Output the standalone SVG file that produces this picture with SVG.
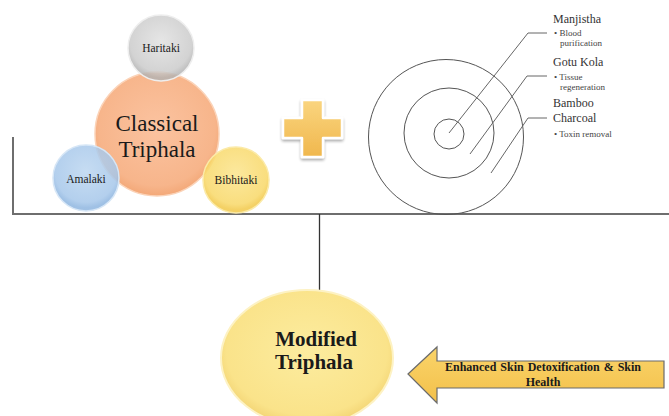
<svg xmlns="http://www.w3.org/2000/svg" width="669" height="416" viewBox="0 0 669 416">
<defs>
<style>
.serif{font-family:"Liberation Serif","Times New Roman",serif;fill:#1a1a1a}
.lbl{font-size:11.5px;text-anchor:middle}
.big{font-size:23px;text-anchor:middle}
.hd{font-size:12px;fill:#333}
.bl{font-size:9px;fill:#444}
.bold{font-weight:bold}
.ring{fill:none;stroke:#555;stroke-width:1}
.lead{fill:none;stroke:#666;stroke-width:1}
.axis{fill:none;stroke:#6e6e6e;stroke-width:2}
.conn{fill:none;stroke:#333;stroke-width:1.3}
</style>
<radialGradient id="gOr" cx="50%" cy="45%" r="55%"><stop offset="0" stop-color="#fbc3a0"/><stop offset="0.85" stop-color="#f7b58b"/><stop offset="1" stop-color="#f3a878"/></radialGradient>
<radialGradient id="gGr" cx="50%" cy="40%" r="55%"><stop offset="0" stop-color="#e0e0e0"/><stop offset="0.85" stop-color="#c9c9c9"/><stop offset="1" stop-color="#b3b3b3"/></radialGradient>
<radialGradient id="gBl" cx="50%" cy="40%" r="55%"><stop offset="0" stop-color="#bcd6f0"/><stop offset="0.85" stop-color="#a6c7ea"/><stop offset="1" stop-color="#8fb6e0"/></radialGradient>
<radialGradient id="gYe" cx="50%" cy="40%" r="55%"><stop offset="0" stop-color="#fbe48c"/><stop offset="0.85" stop-color="#f8d868"/><stop offset="1" stop-color="#f2c94a"/></radialGradient>
<radialGradient id="gMod" cx="50%" cy="45%" r="55%"><stop offset="0" stop-color="#fcec9f"/><stop offset="0.85" stop-color="#fae38a"/><stop offset="1" stop-color="#f3d575"/></radialGradient>
<linearGradient id="gPlus" x1="0" y1="0" x2="0" y2="1"><stop offset="0" stop-color="#fad57f"/><stop offset="1" stop-color="#f0b74d"/></linearGradient>
<linearGradient id="gArr" x1="0" y1="0" x2="0" y2="1"><stop offset="0" stop-color="#fad46a"/><stop offset="1" stop-color="#f3c04a"/></linearGradient>
<filter id="sh" x="-20%" y="-20%" width="140%" height="140%"><feGaussianBlur in="SourceAlpha" stdDeviation="1.5"/><feOffset dx="0" dy="1.5"/><feComponentTransfer><feFuncA type="linear" slope="0.35"/></feComponentTransfer><feMerge><feMergeNode/><feMergeNode in="SourceGraphic"/></feMerge></filter>
</defs>
<rect width="669" height="416" fill="#fff"/>
<g id="connectors">
<polyline class="axis" points="13,137 13,214 669,214"/>
<line class="conn" x1="319.5" y1="214" x2="319.5" y2="290"/>
</g>
<g id="classical-triphala">
<circle cx="157" cy="134" r="62" fill="url(#gOr)" stroke="#fbd3b8" stroke-width="1.5"/>
<text class="serif big" x="157" y="131">Classical</text>
<text class="serif big" x="157" y="157">Triphala</text>
</g>
<g id="haritaki">
<circle cx="161" cy="48" r="33" fill="url(#gGr)" fill-opacity="0.82" stroke="#eeeeee" stroke-width="1.5"/>
<text class="serif lbl" x="161" y="52">Haritaki</text>
</g>
<g id="amalaki">
<circle cx="86" cy="178" r="33" fill="url(#gBl)" fill-opacity="0.85" stroke="#d6e6f6" stroke-width="1.5"/>
<text class="serif lbl" x="86" y="183">Amalaki</text>
</g>
<g id="bibhitaki">
<circle cx="236" cy="180" r="33" fill="url(#gYe)" fill-opacity="0.85" stroke="#fbeaa8" stroke-width="1.5"/>
<text class="serif lbl" x="236" y="184">Bibhitaki</text>
</g>
<g id="plus" filter="url(#sh)">
<path d="M302,100 H323 V118 H342 V138 H323 V157 H302 V138 H283 V118 H302 Z" fill="url(#gPlus)" stroke="#fff" stroke-width="2.5" stroke-linejoin="round"/>
</g>
<g id="target">
<circle class="ring" cx="446" cy="137" r="77.5"/>
<circle class="ring" cx="449" cy="133" r="45"/>
<circle class="ring" cx="449" cy="134" r="15"/>
<polyline class="lead" points="449,133 528,33 547,33"/>
<polyline class="lead" points="470,154 527,76 547,76"/>
<polyline class="lead" points="491,173 528,118 547,118"/>
</g>
<g id="manjistha">
<text class="serif hd" x="553" y="23">Manjistha</text>
<text class="serif bl" x="554" y="36">• Blood</text>
<text class="serif bl" x="560" y="46">purification</text>
</g>
<g id="gotu-kola">
<text class="serif hd" x="553" y="66">Gotu Kola</text>
<text class="serif bl" x="554" y="80">• Tissue</text>
<text class="serif bl" x="560" y="90">regeneration</text>
</g>
<g id="bamboo-charcoal">
<text class="serif hd" x="553" y="107">Bamboo</text>
<text class="serif hd" x="553" y="122">Charcoal</text>
<text class="serif bl" x="554" y="137">• Toxin removal</text>
</g>
<g id="modified-triphala">
<ellipse cx="307" cy="358" rx="86" ry="68" fill="url(#gMod)" stroke="#fdf2c4" stroke-width="2"/>
<text class="serif bold" x="316" y="346" font-size="21" text-anchor="middle">Modified</text>
<text class="serif bold" x="314" y="369" font-size="21" text-anchor="middle">Triphala</text>
</g>
<g id="benefit-arrow">
<path d="M408,374 L437,347 V361 H664 V388 H437 V403 Z" fill="url(#gArr)" stroke="#6b6b6b" stroke-width="1.2" stroke-linejoin="miter"/>
<text class="serif bold" x="543" y="371" font-size="12" text-anchor="middle" word-spacing="1">Enhanced Skin Detoxification &amp; Skin</text>
<text class="serif bold" x="543" y="386" font-size="12" text-anchor="middle">Health</text>
</g>
</svg>
